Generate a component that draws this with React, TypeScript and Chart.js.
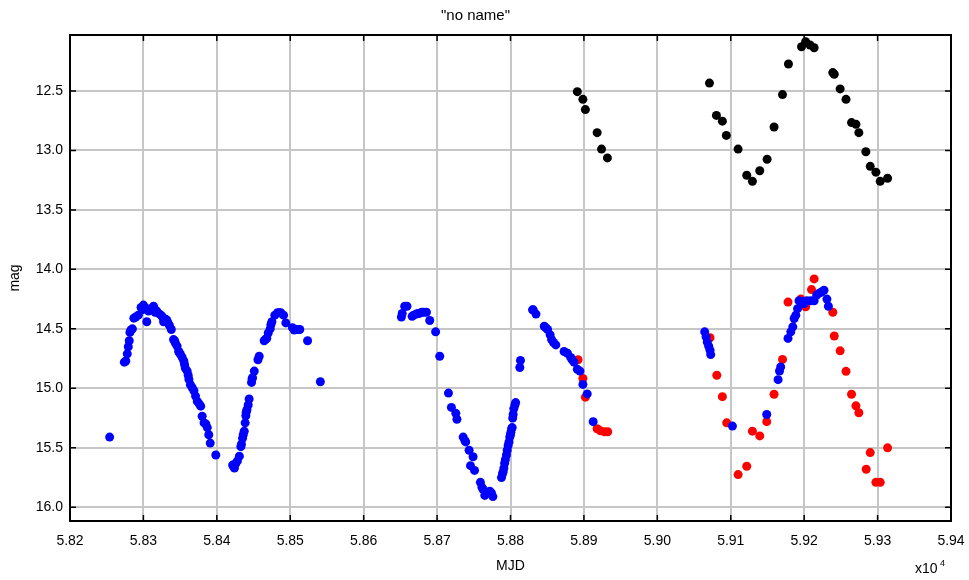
import React, { useEffect, useRef } from "react";
import Chart from "chart.js/auto";

const xTicks = [58200, 58300, 58400, 58500, 58600, 58700, 58800, 58900, 59000, 59100, 59200, 59300, 59400];
const yTicks = [12.5, 13.0, 13.5, 14.0, 14.5, 15.0, 15.5, 16.0];

const blueMJD = [
  58254, 58274, 58276, 58278, 58279.4, 58280.7, 58281.6, 58283, 58285, 58287, 58289.4, 58293, 58296.8, 58298.5, 58300,
  58302, 58304.6, 58307, 58310, 58313.8, 58316, 58318, 58320.6, 58324, 58326, 58327.5, 58330.7, 58332, 58333.5, 58335.3,
  58338, 58341, 58342.5, 58343.6, 58345.9, 58348, 58349, 58350.5, 58352.8, 58355, 58356, 58357, 58359.6, 58361, 58362,
  58364, 58366.5, 58368.8, 58371, 58373.4, 58376, 58378, 58380, 58382.6, 58385, 58387, 58389, 58391, 58398.6,
  58421.5, 58423, 58424, 58426, 58428, 58430.7, 58432.7, 58433.5, 58435, 58436, 58437.3, 58438.6, 58439.5, 58440, 58441,
  58442.7, 58444, 58447.3, 58448, 58448.6, 58451, 58456, 58457.7, 58464.5, 58466, 58468, 58470, 58472.7, 58473.6, 58475,
  58479, 58482.7, 58485, 58487, 58490.9, 58494, 58503, 58505.5, 58508, 58510, 58513, 58523.6, 58541,
  58651.4, 58652.5, 58655.9, 58659, 58666, 58668, 58671.8, 58674, 58676, 58679, 58681.8, 58685.5, 58690, 58698, 58703.6,
  58715.5, 58719.5, 58725.5, 58727, 58735.5, 58738, 58739, 58743.6, 58749, 58745.5, 58751, 58759, 58761, 58762.7, 58765,
  58771.8, 58774, 58776, 58787.7, 58789, 58790, 58791, 58792, 58793, 58794.5, 58795.5, 58796.8, 58798, 58799, 58800,
  58800.5, 58801.5, 58802.3, 58803, 58803.6, 58804.5, 58806, 58807, 58812.7, 58813.6, 58830, 58831, 58834.7, 58846, 58848,
  58850.5, 58854, 58856, 58858.6, 58861.7, 58873, 58877.5, 58882, 58884, 58886.5, 58891, 58894.6, 58898.6, 58904.5, 58912.6,
  59064.5, 59066.4, 59068, 59070, 59071.8, 59072.7, 59102.3, 59149, 59164.5, 59166.4, 59168, 59178, 59181.8, 59184.5,
  59186.4, 59188.6, 59191, 59193, 59196.4, 59200, 59203.6, 59209, 59213.6, 59217, 59220.5, 59223.6, 59227, 59231, 59233,
];
const blueMag = [
  15.41, 14.78, 14.77, 14.71, 14.65, 14.6, 14.53, 14.51, 14.5, 14.41, 14.4, 14.385, 14.32, 14.34, 14.3,
  14.32, 14.44, 14.35, 14.33, 14.31, 14.36, 14.35, 14.37, 14.385, 14.4, 14.44, 14.42, 14.43, 14.45, 14.47,
  14.505, 14.59, 14.6, 14.62, 14.645, 14.69, 14.7, 14.715, 14.74, 14.77, 14.8, 14.83, 14.855, 14.89, 14.925,
  14.97, 14.995, 15.02, 15.065, 15.11, 15.13, 15.15, 15.235, 15.29, 15.3, 15.33, 15.39, 15.46, 15.56,
  15.645, 15.66, 15.67, 15.63, 15.61, 15.57, 15.49, 15.47, 15.42, 15.39, 15.36, 15.29, 15.23, 15.2, 15.18,
  15.14, 15.09, 14.95, 14.92, 14.91, 14.855, 14.76, 14.73, 14.6, 14.59, 14.58, 14.535, 14.5, 14.465, 14.44,
  14.385, 14.365, 14.365, 14.365, 14.385, 14.45, 14.49, 14.51, 14.505, 14.505, 14.505, 14.6, 14.945,
  14.4, 14.37, 14.31, 14.31, 14.395, 14.385, 14.375, 14.37, 14.37, 14.36, 14.36, 14.36, 14.43, 14.525, 14.73,
  15.04, 15.16, 15.21, 15.26, 15.41, 15.44, 15.45, 15.52, 15.575, 15.65, 15.69, 15.79, 15.83, 15.85, 15.9,
  15.865, 15.88, 15.91, 15.75, 15.72, 15.7, 15.67, 15.63, 15.6, 15.56, 15.52, 15.48, 15.45, 15.41, 15.39,
  15.37, 15.34, 15.33, 15.25, 15.22, 15.17, 15.14, 15.12, 14.825, 14.765, 14.34, 14.34, 14.376, 14.478, 14.49,
  14.505, 14.55, 14.59, 14.615, 14.635, 14.69, 14.705, 14.74, 14.76, 14.78, 14.84, 14.855, 14.967, 15.047, 15.28,
  14.525, 14.567, 14.61, 14.646, 14.68, 14.716, 15.317, 15.22, 14.927, 14.854, 14.82, 14.58, 14.525, 14.483,
  14.413, 14.385, 14.33, 14.264, 14.27, 14.287, 14.264, 14.264, 14.264, 14.216, 14.2, 14.19, 14.175, 14.25, 14.31,
];

const redMJD = [
  58892, 58898.6, 58902, 58918, 58922.5, 58928, 58932.4, 59071.8, 59081, 59088.6, 59094.5, 59110, 59121.8, 59129.5,
  59139.5, 59149, 59159, 59170.5, 59178, 59195.5, 59202, 59210, 59213.6, 59239, 59241, 59249, 59257, 59264.5, 59270.5,
  59274.5, 59290, 59284.5, 59297.7, 59303.6, 59313.6,
];
const redMag = [
  14.76, 14.917, 15.074, 15.34, 15.357, 15.365, 15.365, 14.575, 14.89, 15.07, 15.29, 15.725, 15.655, 15.36,
  15.4, 15.28, 15.05, 14.757, 14.275, 14.25, 14.314, 14.17, 14.08, 14.36, 14.56, 14.685, 14.857, 15.05, 15.147,
  15.205, 15.54, 15.68, 15.79, 15.79, 15.5,
];

const blackMJD = [
  58891, 58898.6, 58902, 58918, 58924, 58932, 59071, 59080.5, 59088.6, 59094, 59110, 59121.8, 59129.5, 59139.5,
  59149.5, 59159, 59170.5, 59178.6, 59196.4, 59202, 59208, 59213.6, 59239, 59241, 59249, 59257, 59264.5, 59270.5,
  59274.5, 59284, 59290, 59297.7, 59303.6, 59313.6,
];
const blackMag = [
  12.506, 12.571, 12.657, 12.851, 12.989, 13.063, 12.434, 12.706, 12.754, 12.874, 12.989, 13.209, 13.26, 13.171,
  13.074, 12.803, 12.531, 12.274, 12.129, 12.086, 12.114, 12.137, 12.346, 12.36, 12.483, 12.571, 12.766, 12.78,
  12.851, 13.011, 13.134, 13.183, 13.26, 13.234,
];

const FONT = "'Liberation Sans', Arial, Helvetica, sans-serif";

const toPts = (xs: number[], ys: number[]) => xs.map((x, i) => ({ x, y: ys[i] }));

const framePlugin = {
  id: "frame",
  afterDraw(chart: any) {
    const { ctx, chartArea: a, scales } = chart;
    const x = scales.x;
    const y = scales.y;
    ctx.save();
    ctx.strokeStyle = "#000";
    ctx.lineWidth = 1.5;
    ctx.beginPath();
    const L = 6;
    for (const v of xTicks) {
      const px = x.getPixelForValue(v);
      ctx.moveTo(px, a.bottom);
      ctx.lineTo(px, a.bottom - L);
      ctx.moveTo(px, a.top);
      ctx.lineTo(px, a.top + L);
    }
    for (const v of yTicks) {
      const py = y.getPixelForValue(v);
      ctx.moveTo(a.left, py);
      ctx.lineTo(a.left + L, py);
      ctx.moveTo(a.right, py);
      ctx.lineTo(a.right - L, py);
    }
    ctx.stroke();
    ctx.lineWidth = 2;
    ctx.strokeRect(a.left, a.top, a.right - a.left, a.bottom - a.top);
    ctx.fillStyle = "#000";
    ctx.textAlign = "left";
    ctx.textBaseline = "alphabetic";
    ctx.font = `14px ${FONT}`;
    ctx.fillText("x10", 915, 573);
    ctx.font = `9px ${FONT}`;
    ctx.fillText("4", 940, 566);
    ctx.restore();
  },
};

export default function App() {
  const ref = useRef<HTMLCanvasElement | null>(null);
  useEffect(() => {
    document.body.style.margin = "0";
    const canvas = ref.current;
    if (!canvas) return;
    const ds = (label: string, xs: number[], ys: number[], color: string, order: number) => ({
      label,
      data: toPts(xs, ys),
      backgroundColor: color,
      borderColor: color,
      borderWidth: 0,
      pointRadius: 4.5,
      pointHoverRadius: 4.5,
      showLine: false,
      order,
    });
    const chart = new Chart(canvas, {
      type: "scatter",
      data: {
        datasets: [
          ds("blue", blueMJD, blueMag, "#0000ff", 0),
          ds("red", redMJD, redMag, "#ff0000", 1),
          ds("black", blackMJD, blackMag, "#000000", 2),
        ],
      },
      options: {
        animation: false,
        responsive: true,
        maintainAspectRatio: false,
        layout: { padding: { left: 0, right: 18, top: 0, bottom: 0 } },
        plugins: {
          legend: { display: false },
          tooltip: { enabled: false },
          title: {
            display: true,
            text: '"no name"',
            color: "#000",
            font: { family: FONT, size: 15, weight: "normal" },
            padding: { top: 7, bottom: 10 },
          },
        },
        scales: {
          x: {
            type: "linear",
            min: 58200,
            max: 59400,
            afterFit: (s: any) => {
              s.height = 59;
              s.paddingLeft = 0;
              s.paddingRight = 0;
            },
            afterBuildTicks: (s: any) => {
              s.ticks = xTicks.map((v) => ({ value: v }));
            },
            ticks: {
              color: "#000",
              font: { family: FONT, size: 14 },
              padding: 12,
              maxRotation: 0,
              autoSkip: false,
              callback: (v: any) => (Number(v) / 10000).toFixed(2),
            },
            grid: { color: "#c6c6c6", lineWidth: 2, drawTicks: false },
            border: { display: true, color: "#000", width: 2 },
            title: {
              display: true,
              text: "MJD",
              color: "#000",
              font: { family: FONT, size: 14 },
              padding: { top: 0, bottom: 5 },
            },
          },
          y: {
            type: "linear",
            reverse: true,
            min: 12.03,
            max: 16.115,
            afterFit: (s: any) => {
              s.width = 70;
            },
            afterBuildTicks: (s: any) => {
              s.ticks = yTicks.map((v) => ({ value: v }));
            },
            ticks: {
              color: "#000",
              font: { family: FONT, size: 14 },
              padding: 7,
              autoSkip: false,
              callback: (v: any) => Number(v).toFixed(1),
            },
            grid: { color: "#c6c6c6", lineWidth: 2, drawTicks: false },
            border: { display: true, color: "#000", width: 2 },
            title: {
              display: true,
              text: "mag",
              color: "#000",
              font: { family: FONT, size: 14 },
              padding: { top: 7, bottom: 0 },
            },
          },
        },
      },
      plugins: [framePlugin],
    });
    return () => chart.destroy();
  }, []);
  return (
    <div style={{ position: "absolute", left: 0, top: 0, width: 969, height: 580 }}>
      <canvas ref={ref} />
    </div>
  );
}
